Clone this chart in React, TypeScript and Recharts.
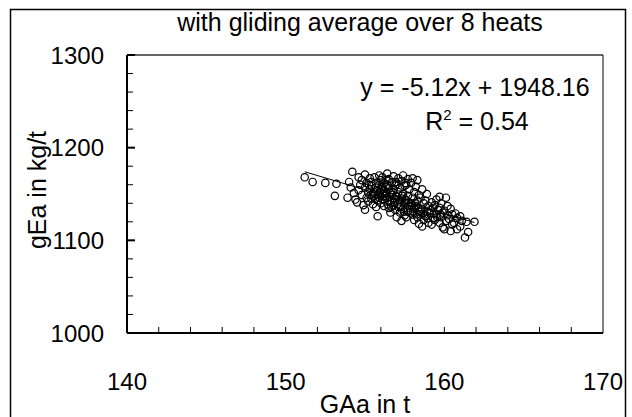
import React from 'react'
import { ComposedChart, ReferenceLine, Scatter, XAxis, YAxis } from 'recharts'

// GAa in t, gEa in kg/t (gliding average over 8 heats)
const tailPoints: [number, number][] = [
    [151.2, 1168], [151.7, 1163], [152.5, 1162], [153.2, 1161], [153.1, 1148], [153.9, 1146],
]

const westPoints: [number, number][] = [
    [154.2, 1174], [154.1, 1157], [154.3, 1151], [154.0, 1163], [154.4, 1144], [154.5, 1141],
    [154.6, 1168], [154.7, 1160], [154.6, 1154], [154.8, 1149], [154.9, 1138], [154.8, 1165],
    [155.0, 1171], [155.1, 1162], [155.0, 1157], [155.2, 1152], [155.1, 1146], [155.0, 1133], [155.2, 1142],
    [155.3, 1167], [155.4, 1159], [155.3, 1155], [155.5, 1150], [155.4, 1145], [155.5, 1139], [155.4, 1163],
    [155.6, 1168], [155.7, 1162], [155.7, 1157], [155.8, 1153], [155.6, 1148], [155.8, 1143], [155.7, 1136],
    [155.9, 1170], [156.0, 1165], [155.9, 1160], [156.0, 1155], [156.1, 1150], [155.9, 1146], [156.0, 1140], [155.8, 1126],
    [156.1, 1168], [156.2, 1162], [156.3, 1158], [156.2, 1153], [156.3, 1148], [156.1, 1144], [156.2, 1137],
]

const centerPoints: [number, number][] = [
    [156.4, 1172], [156.5, 1166], [156.4, 1160], [156.5, 1156], [156.6, 1151], [156.4, 1146], [156.6, 1141], [156.5, 1135], [156.6, 1130],
    [156.8, 1169], [156.7, 1163], [156.9, 1159], [156.8, 1154], [156.7, 1149], [156.9, 1144], [156.8, 1138], [156.9, 1133],
    [157.1, 1167], [157.0, 1161], [157.2, 1157], [157.1, 1152], [157.0, 1147], [157.2, 1142], [157.1, 1136], [157.2, 1130], [157.0, 1125],
    [157.4, 1170], [157.3, 1164], [157.5, 1159], [157.4, 1150], [157.3, 1145], [157.5, 1140], [157.4, 1134], [157.5, 1127], [157.3, 1121],
    [157.7, 1166], [157.6, 1160], [157.8, 1155], [157.7, 1148], [157.6, 1143], [157.8, 1137], [157.7, 1131], [157.6, 1125],
    [158.0, 1167], [157.9, 1162], [158.1, 1152], [158.0, 1146], [157.9, 1140], [158.1, 1134], [158.0, 1128], [158.1, 1122],
    [158.3, 1165], [158.2, 1158], [158.4, 1149], [158.3, 1143], [158.2, 1137], [158.4, 1131], [158.3, 1125], [158.4, 1118],
]

const corePoints: [number, number][] = [
    [155.55, 1152], [155.85, 1149], [156.15, 1156], [156.35, 1151], [156.55, 1147], [156.75, 1152], [156.95, 1148],
    [157.15, 1144], [157.35, 1148], [157.55, 1144], [157.75, 1141], [157.95, 1137], [158.15, 1140], [158.35, 1135],
    [156.05, 1158], [156.25, 1143], [156.45, 1139], [156.65, 1136], [156.85, 1141], [157.05, 1139], [157.25, 1136],
    [157.45, 1131], [157.65, 1135], [157.85, 1130], [158.05, 1131], [158.25, 1128], [158.55, 1131], [158.75, 1128],
    [158.95, 1124], [159.15, 1133], [159.35, 1129], [159.55, 1125], [159.75, 1128], [155.35, 1149], [155.65, 1145],
    [155.95, 1152], [156.35, 1165], [156.95, 1163], [157.55, 1162], [155.25, 1160],
]

const eastPoints: [number, number][] = [
    [158.6, 1155], [158.5, 1146], [158.7, 1140], [158.6, 1134], [158.5, 1128], [158.7, 1122], [158.6, 1115],
    [158.9, 1150], [158.8, 1143], [159.0, 1137], [158.9, 1131], [158.8, 1126], [159.0, 1119],
    [159.2, 1141], [159.3, 1135], [159.1, 1129], [159.3, 1124], [159.2, 1117],
    [159.5, 1144], [159.4, 1138], [159.6, 1133], [159.5, 1128], [159.4, 1122],
    [159.7, 1147], [159.8, 1140], [159.7, 1135], [159.9, 1130], [159.8, 1125], [159.7, 1119], [159.9, 1114],
    [160.1, 1146], [160.2, 1137], [160.0, 1132], [160.2, 1127], [160.1, 1121], [160.0, 1112],
    [160.4, 1134], [160.5, 1128], [160.3, 1123], [160.5, 1117], [160.4, 1110],
    [160.7, 1129], [160.8, 1124], [160.6, 1119], [160.8, 1112],
    [161.0, 1126], [161.1, 1121], [161.0, 1115],
    [161.4, 1120], [161.9, 1120], [161.5, 1109], [161.3, 1103],
]

// linear trend from the chart's equation
const slope = -5.12
const intercept = 1948.16
const rSquared = 0.54

const xTicks = [140, 142, 144, 146, 148, 150, 152, 154, 156, 158, 160, 162, 164, 166, 168, 170]
const yTicks = [1000, 1020, 1040, 1060, 1080, 1100, 1120, 1140, 1160, 1180, 1200, 1220, 1240, 1260, 1280, 1300]

const font = '"Liberation Sans", Arial, sans-serif'

const points = [...tailPoints, ...westPoints, ...centerPoints, ...corePoints, ...eastPoints].map(([x, y]) => ({ x, y }))
const xs = points.map((p) => p.x)
const trend = [Math.min(...xs), Math.max(...xs)].map((x) => ({ x, y: slope * x + intercept }))

const Ring = (props: any) => (
    <circle cx={props.cx} cy={props.cy} r={3.7} fill="none" stroke="#000" strokeWidth={1.2} />
)

const XTick = (props: any) => {
    const { x, y, payload } = props
    const v = payload.value
    const major = v % 10 === 0
    return (
        <g>
            {v !== 140 && v !== 170 && <line x1={x} x2={x} y1={y} y2={y - 6} stroke="#000" strokeWidth={1} />}
            {major && (
                <text x={x} y={y + 57} textAnchor="middle" fontSize={24} fontFamily={font} fill="#000">
                    {v}
                </text>
            )}
        </g>
    )
}

const YTick = (props: any) => {
    const { x, y, payload } = props
    const v = payload.value
    const major = v % 100 === 0
    return (
        <g>
            {v !== 1000 && (
                <line x1={x} x2={x + (major ? 8 : 6)} y1={y} y2={y} stroke="#000" strokeWidth={major ? 2 : 1} />
            )}
            {major && (
                <text x={x - 23} y={y} dy="0.36em" textAnchor="end" fontSize={24} fontFamily={font} fill="#000">
                    {v}
                </text>
            )}
        </g>
    )
}

export default function App() {
    return (
        <div style={{ position: 'absolute', left: 0, top: 0, width: 632, height: 417, overflow: 'hidden', background: '#fff' }}>
            <ComposedChart width={632} height={417} margin={{ top: 55, right: 29, bottom: 34, left: 57 }}>
                <XAxis
                    type="number"
                    dataKey="x"
                    domain={[140, 170]}
                    ticks={xTicks}
                    interval={0}
                    tickSize={0}
                    tickMargin={0}
                    tick={<XTick />}
                    axisLine={{ stroke: '#000', strokeWidth: 2 }}
                    height={50}
                    allowDataOverflow
                />
                <YAxis
                    type="number"
                    dataKey="y"
                    domain={[1000, 1300]}
                    ticks={yTicks}
                    interval={0}
                    tickSize={0}
                    tickMargin={0}
                    tick={<YTick />}
                    axisLine={{ stroke: '#000', strokeWidth: 2 }}
                    width={70}
                    allowDataOverflow
                />
                <ReferenceLine y={1300} stroke="#666" strokeWidth={2} />
                <ReferenceLine x={170} stroke="#000" strokeWidth={1} />
                <Scatter data={points} shape={Ring} isAnimationActive={false} />
                <Scatter
                    data={trend}
                    line={{ stroke: '#000', strokeWidth: 1 }}
                    shape={() => <g />}
                    isAnimationActive={false}
                />
            </ComposedChart>
            <svg
                width={632}
                height={417}
                style={{ position: 'absolute', left: 0, top: 0, pointerEvents: 'none' }}
                fontFamily={font}
                fill="#000"
            >
                <rect x={10.5} y={9.5} width={615} height={430} fill="none" stroke="#000" strokeWidth={1.5} />
                <text x={360} y={31} textAnchor="middle" fontSize={25}>
                    with gliding average over 8 heats
                </text>
                <text x={475} y={96} textAnchor="middle" fontSize={25}>
                    {`y = ${slope}x + ${intercept}`}
                </text>
                <text x={477} y={130} textAnchor="middle" fontSize={25}>
                    R<tspan dy={-10} fontSize={15}>2</tspan>
                    <tspan dy={10}>{` = ${rSquared}`}</tspan>
                </text>
                <text x={365} y={413} textAnchor="middle" fontSize={25}>
                    GAa in t
                </text>
                <text transform="translate(46,190) rotate(-90)" textAnchor="middle" fontSize={25}>
                    gEa in kg/t
                </text>
            </svg>
        </div>
    )
}
